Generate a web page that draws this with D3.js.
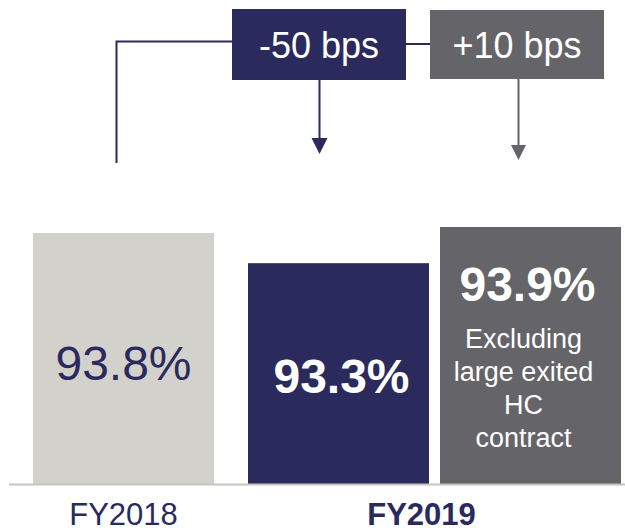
<!DOCTYPE html>
<html>
<head>
<meta charset="utf-8">
<script src="https://cdn.jsdelivr.net/npm/d3@7"></script>
<style>
  html, body { margin: 0; padding: 0; background: #ffffff; }
  svg { display: block; font-family: "Liberation Sans", Arial, sans-serif; }
</style>
</head>
<body>
<svg id="chart" width="625" height="528"></svg>
<script>
// ---- data ----
const barKeys = ["FY2018", "FY2019", "FY2019 excl."];
const barGroups = ["FY2018", "FY2019", "FY2019"];
const barValues = [93.8, 93.3, 93.9];
const barLabels = ["93.8%", "93.3%", "93.9%"];
const groupLabels = ["FY2018", "FY2019"];
const noteLines = ["Excluding", "large exited", "HC", "contract"];
const changeLabels = ["-50 bps", "+10 bps"];

// ---- style ----
const NAVY = "#2b2a5c";
const GRAY = "#656569";
const BEIGE = "#d3d1cb";
const barColors = [BEIGE, NAVY, GRAY];

const svg = d3.select("#chart");

// scales
const x = d3.scaleBand().domain(barKeys).range([33, 598]).paddingInner(11 / 192).paddingOuter(0);
const groupGap = 23;
const groupIndex = g => groupLabels.indexOf(g);
const bx = i => x(barKeys[i]) + groupIndex(barGroups[i]) * groupGap;
const bw = x.bandwidth();
const bc = i => bx(i) + bw / 2;

const y = d3.scaleLinear().domain([89.64, 93.9]).range([484, 227]);

// bars
svg.selectAll("rect.bar").data(barValues).enter().append("rect")
  .attr("class", "bar")
  .attr("x", (d, i) => bx(i))
  .attr("y", d => y(d))
  .attr("width", bw)
  .attr("height", d => y.range()[0] - y(d))
  .attr("fill", (d, i) => barColors[i]);

// baseline
svg.append("line")
  .attr("x1", 9).attr("x2", 625)
  .attr("y1", y.range()[0] + 0.5).attr("y2", y.range()[0] + 0.5)
  .attr("stroke", "#c8c4bb").attr("stroke-width", 2);

// value labels
const valueBaselines = [380, 393, 301];
const valueShift = [0, 3, -3];
svg.selectAll("text.val").data(barLabels).enter().append("text")
  .attr("class", "val")
  .attr("x", (d, i) => bc(i) + valueShift[i])
  .attr("y", (d, i) => valueBaselines[i])
  .attr("text-anchor", "middle")
  .attr("font-size", 48)
  .attr("font-weight", (d, i) => i === 0 ? "normal" : "bold")
  .attr("fill", (d, i) => i === 0 ? NAVY : "#ffffff")
  .text(d => d);

// note lines in bar 3
svg.selectAll("text.note").data(noteLines).enter().append("text")
  .attr("class", "note")
  .attr("x", bc(2) - 7)
  .attr("y", (d, i) => 348 + i * 33)
  .attr("text-anchor", "middle")
  .attr("font-size", 27)
  .attr("fill", "#ffffff")
  .text(d => d);

// group labels
svg.append("text")
  .attr("x", bc(0)).attr("y", 525)
  .attr("text-anchor", "middle").attr("font-size", 31).attr("fill", NAVY)
  .text(groupLabels[0]);
svg.append("text")
  .attr("x", (bx(1) + bx(2) + bw) / 2 - 13).attr("y", 525)
  .attr("text-anchor", "middle").attr("font-size", 31).attr("font-weight", "bold").attr("fill", NAVY)
  .text(groupLabels[1]);

// ---- annotations ----
// connector from FY2018 to first box
const cx0 = bc(0) - 7;
svg.append("path")
  .attr("d", `M${cx0},163 L${cx0},41.5 L232,41.5`)
  .attr("fill", "none").attr("stroke", NAVY).attr("stroke-width", 2);
// connector between boxes
svg.append("line")
  .attr("x1", 406).attr("x2", 430).attr("y1", 44).attr("y2", 44)
  .attr("stroke", NAVY).attr("stroke-width", 2);

const boxes = [
  { x0: 232, x1: 406, y0: 9, y1: 80, color: NAVY, arrowX: 319.5, tip: 154, head: 16 },
  { x0: 430, x1: 604, y0: 10, y1: 79, color: GRAY, arrowX: 518.5, tip: 160, head: 15 }
];
boxes.forEach((b, i) => {
  svg.append("rect")
    .attr("x", b.x0).attr("y", b.y0)
    .attr("width", b.x1 - b.x0).attr("height", b.y1 - b.y0)
    .attr("fill", b.color);
  svg.append("text")
    .attr("x", (b.x0 + b.x1) / 2).attr("y", 58)
    .attr("text-anchor", "middle").attr("font-size", 36).attr("fill", "#ffffff")
    .text(changeLabels[i]);
  svg.append("line")
    .attr("x1", b.arrowX).attr("x2", b.arrowX)
    .attr("y1", b.y1).attr("y2", b.tip - b.head + 1)
    .attr("stroke", b.color).attr("stroke-width", 2);
  svg.append("path")
    .attr("d", `M${b.arrowX - b.head / 2},${b.tip - b.head} L${b.arrowX + b.head / 2},${b.tip - b.head} L${b.arrowX},${b.tip} Z`)
    .attr("fill", b.color);
});
</script>
</body>
</html>
